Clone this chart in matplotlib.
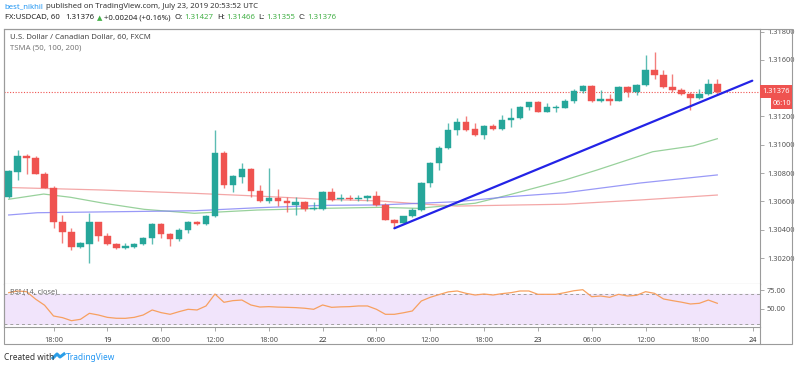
import numpy as np
import matplotlib
matplotlib.use("Agg")
import matplotlib.pyplot as plt
from matplotlib.patches import Rectangle

plt.rcParams['font.family'] = ['Noto Sans', 'DejaVu Sans']

# USDCAD 1h candles, Jul 18 13:00 -> Jul 23 20:00 (weekend gap removed)
opens = [1.30629, 1.30810, 1.30921, 1.30909, 1.30794, 1.30697, 1.30457, 1.30386, 1.30278, 1.30301,
         1.30452, 1.30358, 1.30297, 1.30269, 1.30280, 1.30297, 1.30339, 1.30442, 1.30367, 1.30332,
         1.30400, 1.30457, 1.30438, 1.30499, 1.30940, 1.30716, 1.30775, 1.30827, 1.30674, 1.30603,
         1.30622, 1.30605, 1.30575, 1.30596, 1.30544, 1.30544, 1.30669, 1.30615, 1.30626, 1.30615,
         1.30622, 1.30638, 1.30575, 1.30469, 1.30449, 1.30497, 1.30539, 1.30732, 1.30873, 1.30975,
         1.31105, 1.31163, 1.31110, 1.31067, 1.31133, 1.31110, 1.31175, 1.31187, 1.31269, 1.31305,
         1.31234, 1.31262, 1.31258, 1.31310, 1.31382, 1.31416, 1.31312, 1.31324, 1.31312, 1.31411,
         1.31375, 1.31423, 1.31529, 1.31493, 1.31411, 1.31387, 1.31357, 1.31333, 1.31359, 1.31427]
highs = [1.30822, 1.30963, 1.30935, 1.30921, 1.30810, 1.30709, 1.30504, 1.30410, 1.30315, 1.30520,
         1.30457, 1.30375, 1.30304, 1.30308, 1.30308, 1.30346, 1.30449, 1.30447, 1.30375, 1.30410,
         1.30461, 1.30461, 1.30504, 1.31105, 1.30958, 1.30787, 1.30869, 1.30834, 1.30716, 1.30838,
         1.30686, 1.30629, 1.30633, 1.30601, 1.30596, 1.30674, 1.30693, 1.30652, 1.30643, 1.30643,
         1.30645, 1.30674, 1.30587, 1.30474, 1.30500, 1.30551, 1.30737, 1.30881, 1.30992, 1.31156,
         1.31187, 1.31204, 1.31152, 1.31140, 1.31147, 1.31211, 1.31258, 1.31274, 1.31305, 1.31306,
         1.31293, 1.31281, 1.31324, 1.31394, 1.31423, 1.31423, 1.31387, 1.31359, 1.31416, 1.31418,
         1.31428, 1.31635, 1.31654, 1.31529, 1.31498, 1.31399, 1.31375, 1.31394, 1.31463, 1.31466]
lows = [1.30622, 1.30751, 1.30792, 1.30792, 1.30693, 1.30410, 1.30304, 1.30257, 1.30273, 1.30167,
        1.30322, 1.30292, 1.30264, 1.30261, 1.30269, 1.30292, 1.30299, 1.30339, 1.30287, 1.30320,
        1.30375, 1.30433, 1.30433, 1.30492, 1.30693, 1.30669, 1.30732, 1.30633, 1.30598, 1.30591,
        1.30567, 1.30527, 1.30504, 1.30534, 1.30539, 1.30541, 1.30605, 1.30605, 1.30608, 1.30605,
        1.30601, 1.30570, 1.30466, 1.30410, 1.30447, 1.30488, 1.30532, 1.30704, 1.30822, 1.30968,
        1.31069, 1.31100, 1.31062, 1.31039, 1.31105, 1.31105, 1.31128, 1.31180, 1.31246, 1.31230,
        1.31230, 1.31234, 1.31258, 1.31293, 1.31364, 1.31305, 1.31305, 1.31281, 1.31307, 1.31340,
        1.31352, 1.31418, 1.31465, 1.31399, 1.31371, 1.31352, 1.31246, 1.31324, 1.31352, 1.31355]
closes = [1.30815, 1.30921, 1.30909, 1.30794, 1.30697, 1.30457, 1.30386, 1.30278, 1.30304, 1.30452,
          1.30358, 1.30297, 1.30269, 1.30285, 1.30297, 1.30339, 1.30442, 1.30367, 1.30332, 1.30400,
          1.30457, 1.30438, 1.30499, 1.30940, 1.30716, 1.30780, 1.30827, 1.30674, 1.30603, 1.30622,
          1.30605, 1.30587, 1.30596, 1.30544, 1.30551, 1.30669, 1.30610, 1.30626, 1.30615, 1.30626,
          1.30638, 1.30575, 1.30469, 1.30449, 1.30497, 1.30539, 1.30732, 1.30873, 1.30975, 1.31105,
          1.31163, 1.31105, 1.31067, 1.31133, 1.31110, 1.31175, 1.31187, 1.31269, 1.31305, 1.31234,
          1.31265, 1.31269, 1.31310, 1.31382, 1.31416, 1.31310, 1.31324, 1.31312, 1.31411, 1.31375,
          1.31423, 1.31529, 1.31493, 1.31406, 1.31387, 1.31357, 1.31333, 1.31359, 1.31427, 1.31376]

# TSMA lines read at a few bar positions
ma50_x = [0, 3.9, 6.9, 10.6, 15.1, 20.7, 27.7, 35, 41.4, 45.6, 52, 55.7, 62, 65.6, 71.8, 76.3, 79]
ma50_y = [1.30615, 1.30652, 1.30629, 1.30587, 1.30544, 1.30516, 1.30539, 1.30551, 1.30558, 1.30551,
          1.30587, 1.30645, 1.30751, 1.30822, 1.30951, 1.30992, 1.31043]
ma100_x = [0, 3.2, 20.7, 27.7, 35, 41.4, 50, 55.7, 62, 70.4, 79]
ma100_y = [1.30504, 1.30520, 1.30534, 1.30555, 1.30572, 1.30575, 1.30598, 1.30633, 1.30661, 1.30730, 1.30787]
ma200_x = [0, 10.2, 20.7, 27.7, 35, 41.4, 45.9, 50, 57, 62, 70.4, 79]
ma200_y = [1.30698, 1.30681, 1.30657, 1.30638, 1.30615, 1.30603, 1.30582, 1.30567, 1.30575, 1.30580,
           1.30610, 1.30645]

trend_x = [43.0, 82.9]
trend_y = [1.30410, 1.31453]

rsi = [71.5, 73.7, 72.8, 63.0, 55.0, 40.8, 38.6, 34.6, 36.4, 44.3,
       42.1, 39.0, 37.8, 37.7, 39.0, 42.1, 48.7, 45.2, 43.0, 46.5,
       49.6, 48.7, 54.0, 69.7, 58.8, 61.0, 61.8, 55.3, 52.6, 53.1,
       52.5, 52.2, 51.8, 51.0, 49.6, 55.3, 52.2, 52.8, 53.1, 54.0,
       54.0, 49.6, 43.0, 43.0, 45.0, 47.4, 60.5, 65.4, 69.0, 72.5,
       73.7, 70.6, 68.4, 69.7, 68.4, 70.2, 71.5, 73.7, 73.7, 69.3,
       69.3, 69.3, 71.5, 74.0, 75.4, 66.2, 67.1, 65.4, 69.3, 67.1,
       68.0, 72.8, 70.6, 63.2, 61.0, 59.0, 56.6, 57.5, 61.8, 57.5]

time_ticks = [5, 11, 17, 23, 29, 35, 41, 47, 53, 59, 65, 71, 77, 83]
time_labels = ["18:00", "19", "06:00", "12:00", "18:00", "22", "06:00",
               "12:00", "18:00", "23", "06:00", "12:00", "18:00", "24"]
price_ticks = [1.318, 1.316, 1.312, 1.310, 1.308, 1.306, 1.304, 1.302]
last_price = 1.31376

UP = "#26a69a"
DOWN = "#ef5350"
BORDER = "#9b9b9b"
TXT = "#555555"

W, H = 800, 368
fig = plt.figure(figsize=(8, 3.68), dpi=100)
fig.patch.set_facecolor("white")
renderer = fig.canvas.get_renderer()

def fx(px):
    return px / W

def fy(py):
    return 1 - py / H

def text_row(x0, y, parts, size):
    # lay pieces of text one after another, like the TradingView header
    x = x0
    for s, color, weight, gap in parts:
        t = fig.text(fx(x), fy(y), s, color=color, fontsize=size, fontweight=weight,
                     va="center", ha="left")
        x += t.get_window_extent(renderer).width + gap
    return x

ax = fig.add_axes([fx(4), fy(284), fx(756), 255 / H])
rax = fig.add_axes([fx(4), fy(327), fx(756), 43 / H], sharex=ax)

# candles
idx = np.arange(len(opens))
o = np.array(opens); c = np.array(closes)
cols = [UP if cc >= oo else DOWN for oo, cc in zip(opens, closes)]
ax.vlines(idx, lows, highs, colors=cols, lw=1.0, alpha=0.75, zorder=3)
body_lo = np.minimum(o, c)
body_h = np.maximum(np.abs(c - o), 0.000025)
ax.bar(idx, body_h, bottom=body_lo, width=0.72, color=cols, edgecolor=cols, lw=0.3, zorder=4)

# moving averages
ax.plot(ma200_x, ma200_y, color="#f08a8a", lw=0.9, alpha=0.75, zorder=2)
ax.plot(ma50_x, ma50_y, color="#86c98a", lw=0.9, alpha=0.85, zorder=2)
ax.plot(ma100_x, ma100_y, color="#8080f5", lw=0.9, alpha=0.8, zorder=2)

# trend line
ax.plot(trend_x, trend_y, color="#2323e6", lw=1.6, zorder=5, solid_capstyle="round")

# last price line
ax.axhline(last_price, color=DOWN, ls=(0, (1, 1.5)), lw=0.8, zorder=1)

ax.set_xlim(-0.52, 83.76)
ax.set_ylim(1.300163, 1.318183)
ax.yaxis.tick_right()
ax.set_yticks(price_ticks)
ax.set_yticklabels([f"{p:.5f}" for p in price_ticks])
ax.tick_params(axis="y", length=3, width=0.6, colors=BORDER, labelcolor=TXT, labelsize=5.3, pad=2)
ax.tick_params(axis="x", bottom=False, labelbottom=False)
for s in ax.spines.values():
    s.set_color(BORDER)
    s.set_linewidth(0.8)

ax.text(0.008, 0.966, "U.S. Dollar / Canadian Dollar, 60, FXCM", transform=ax.transAxes,
        fontsize=5.6, color="#444444", va="center", ha="left")
ax.text(0.008, 0.924, "TSMA (50, 100, 200)", transform=ax.transAxes,
        fontsize=5.6, color="#777777", va="center", ha="left")

# RSI panel
rax.axhspan(30, 70, color="#f1e4fb", zorder=0)
rax.axhline(70, color="#a0a0a0", ls=(0, (3, 3)), lw=0.7)
rax.axhline(30, color="#a0a0a0", ls=(0, (3, 3)), lw=0.7)
rax.plot(idx, rsi, color="#f7a060", lw=0.9, zorder=3)
rax.set_ylim(26.3, 82.9)
rax.yaxis.tick_right()
rax.set_yticks([75, 50])
rax.set_yticklabels(["75.00", "50.00"])
rax.tick_params(axis="y", length=3, width=0.6, colors=BORDER, labelcolor=TXT, labelsize=5.3, pad=2)
rax.set_xticks(time_ticks)
rax.set_xticklabels(time_labels)
rax.tick_params(axis="x", length=3, width=0.6, colors=BORDER, labelcolor=TXT, labelsize=5.3, pad=4)
for lbl in rax.get_xticklabels():
    if lbl.get_text() in ("19", "22", "23", "24"):
        lbl.set_color("#333333")
for s in rax.spines.values():
    s.set_color(BORDER)
    s.set_linewidth(0.8)
rax.spines["top"].set_visible(False)
rax.text(0.008, 0.82, "RSI (14, close)", transform=rax.transAxes, fontsize=5.3,
         color="#666666", va="center", ha="left")

# price tag and countdown on the price scale
py = H - ax.transData.transform((0, last_price))[1]
fig.patches.append(Rectangle((fx(760), fy(py + 6.5)), fx(32), 13 / H, transform=fig.transFigure,
                             fc=DOWN, ec="none", zorder=5))
fig.text(fx(776), fy(py), f"{last_price:.5f}", color="white", fontsize=5.4, ha="center",
         va="center", fontweight="bold", zorder=6)
fig.patches.append(Rectangle((fx(771), fy(py + 17)), fx(21), 10.5 / H, transform=fig.transFigure,
                             fc=DOWN, ec="none", zorder=5))
fig.text(fx(781.5), fy(py + 11.8), "06:10", color="white", fontsize=5.2, ha="center",
         va="center", fontweight="bold", zorder=6)

# outer frame (covers time axis strip and price axis column)
fig.patches.append(Rectangle((fx(4), fy(344)), fx(788), 315 / H, transform=fig.transFigure,
                             fill=False, ec=BORDER, lw=0.8))
fig.add_artist(plt.Line2D([fx(760), fx(760)], [fy(344), fy(327)], transform=fig.transFigure,
                          color=BORDER, lw=0.8))

# header
text_row(4, 7, [("best_nikhil", "#2196f3", "normal", 3.5),
                ("published on TradingView.com, July 23, 2019 20:53:52 UTC", "#333333", "normal", 0)],
         5.6)
G = "#43b047"
x = text_row(5, 17.7, [("FX:USDCAD, 60", "#222222", "bold", 5),
                       ("1.31376", "#222222", "normal", 3)], 5.6)
fig.text(fx(x), fy(17.7), "\u25B2", color=G, fontsize=5.0, va="center", family="DejaVu Sans")
text_row(x + 7.5, 17.7, [("+0.00204 (+0.16%)", "#222222", "normal", 3.5),
                         ("O:", "#222222", "bold", 1.5), ("1.31427", G, "normal", 3.5),
                         ("H:", "#222222", "bold", 1.5), ("1.31466", G, "normal", 3.5),
                         ("L:", "#222222", "bold", 1.5), ("1.31355", G, "normal", 3.5),
                         ("C:", "#222222", "bold", 1.5), ("1.31376", G, "normal", 0)], 5.6)

# footer
fig.text(fx(4), fy(357), "Created with", color="#333333", fontsize=6.0, va="center", ha="left")
fig.add_artist(plt.Line2D([fx(53), fx(57), fx(60), fx(64)], [fy(358), fy(354), fy(357), fy(354)],
                          transform=fig.transFigure, color="#2a9ee8", lw=2.2))
fig.text(fx(66), fy(357), "TradingView", color="#2196f3", fontsize=6.0, va="center", ha="left")

fig.savefig("out.png", dpi=100, facecolor="white")
